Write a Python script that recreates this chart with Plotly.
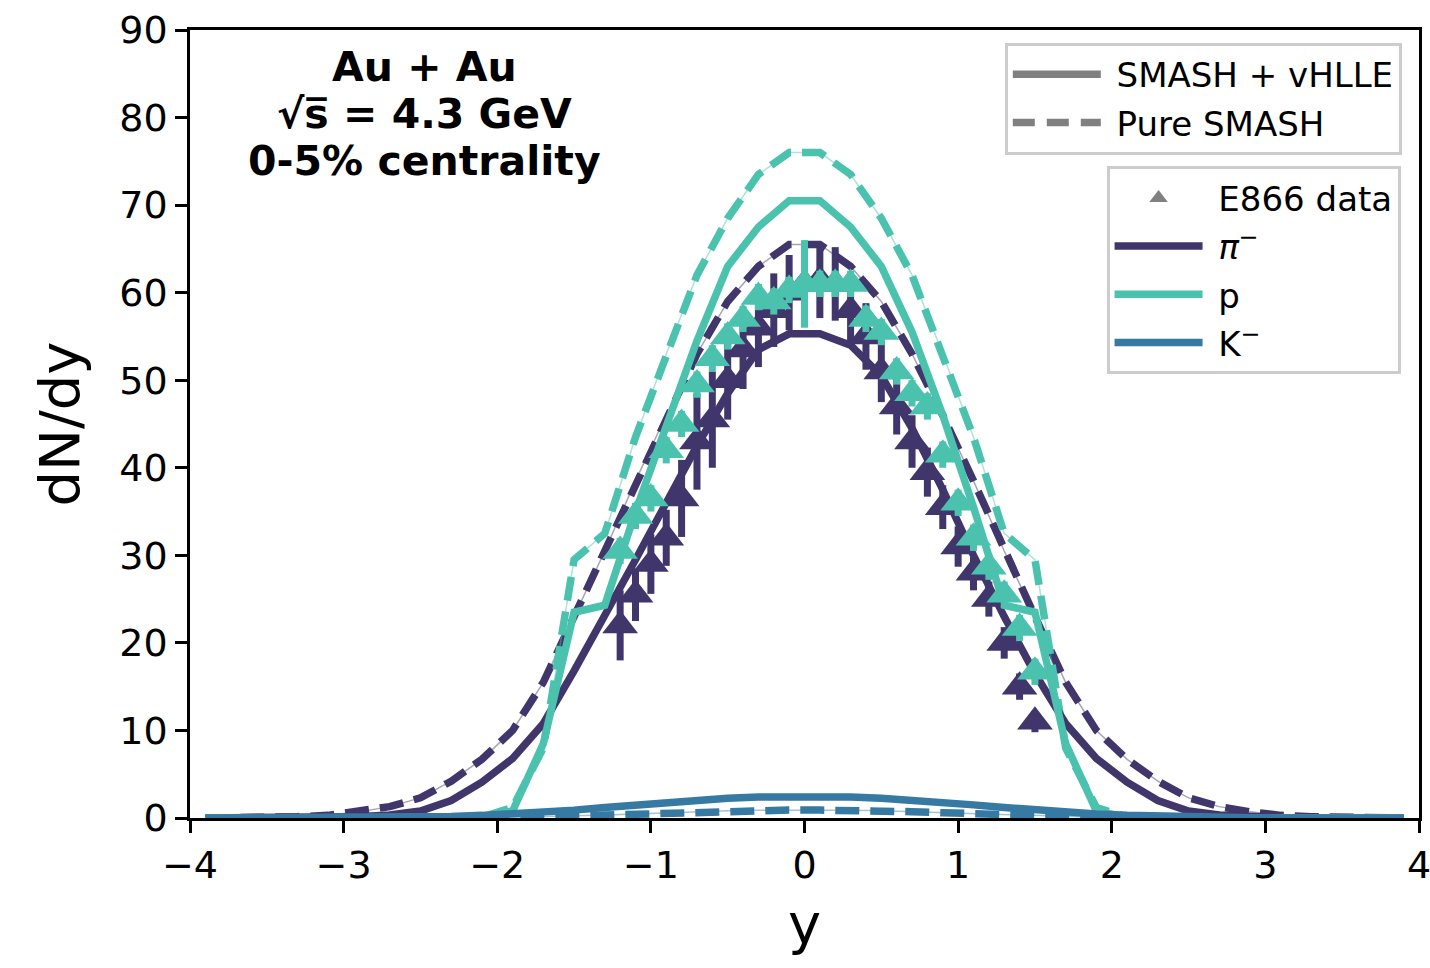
import plotly.graph_objects as go

# ---------------- data ----------------
rapidity = [-3.9, -3.7, -3.5, -3.3, -3.1, -2.9, -2.7, -2.5, -2.3, -2.1,
            -1.9, -1.7, -1.5, -1.3, -1.1, -0.9, -0.7, -0.5, -0.3, -0.1,
            0.1, 0.3, 0.5, 0.7, 0.9, 1.1, 1.3, 1.5, 1.7, 1.9,
            2.1, 2.3, 2.5, 2.7, 2.9, 3.1, 3.3, 3.5, 3.7, 3.9]

# SMASH + vHLLE (solid)
pi_hydro = [0, 0, 0, 0, 0.05, 0.15, 0.35, 0.8, 2.0, 4.1,
            6.8, 10.8, 16.8, 23.0, 29.5, 36.0, 42.5, 48.5, 53.5, 55.3,
            55.3, 54.0, 50.5, 44.5, 37.5, 30.0, 23.0, 16.5, 10.8, 6.8,
            4.1, 2.0, 0.8, 0.35, 0.15, 0.05, 0, 0, 0, 0]
p_hydro = [0, 0, 0, 0, 0, 0, 0, 0, 0, 0.05,
           0.8, 8.5, 23.5, 24.3, 35.0, 44.5, 54.5, 63.0, 67.5, 70.5,
           70.5, 67.5, 63.0, 55.5, 46.0, 35.5, 24.3, 23.5, 8.5, 0.8,
           0.05, 0, 0, 0, 0, 0, 0, 0, 0, 0]
k_hydro = [0, 0, 0, 0, 0.01, 0.03, 0.05, 0.1, 0.18, 0.3,
           0.45, 0.65, 0.9, 1.2, 1.5, 1.8, 2.05, 2.25, 2.4, 2.45,
           2.45, 2.4, 2.25, 2.05, 1.8, 1.5, 1.2, 0.9, 0.65, 0.45,
           0.3, 0.18, 0.1, 0.05, 0.03, 0.01, 0, 0, 0, 0]

# Pure SMASH (dashed)
pi_smash = [0, 0.02, 0.05, 0.15, 0.3, 0.7, 1.3, 2.3, 4.2, 6.7,
            10.0, 15.5, 23.0, 30.5, 38.5, 46.0, 53.0, 59.0, 63.0, 65.5,
            65.5, 63.0, 59.0, 53.0, 46.0, 38.5, 30.5, 23.0, 15.5, 10.0,
            6.7, 4.2, 2.3, 1.3, 0.7, 0.3, 0.15, 0.05, 0.02, 0]
p_smash = [0, 0, 0, 0, 0, 0, 0, 0, 0, 0.1,
           1.2, 8.0, 29.5, 32.5, 43.5, 53.0, 62.0, 68.5, 73.5, 76.0,
           76.0, 73.5, 68.5, 62.0, 53.0, 43.5, 32.5, 29.5, 8.0, 1.2,
           0.1, 0, 0, 0, 0, 0, 0, 0, 0, 0]
k_smash = [0, 0, 0, 0, 0, 0, 0, 0.01, 0.03, 0.05,
           0.09, 0.15, 0.24, 0.35, 0.47, 0.6, 0.72, 0.82, 0.88, 0.9,
           0.9, 0.88, 0.82, 0.72, 0.6, 0.47, 0.35, 0.24, 0.15, 0.09,
           0.05, 0.03, 0.01, 0, 0, 0, 0, 0, 0, 0]

# E866 data
e866_y = [-1.2, -1.1, -1.0, -0.9, -0.8, -0.7, -0.6, -0.5, -0.4, -0.3,
          -0.2, -0.1, 0.0, 0.1, 0.2, 0.3, 0.4, 0.5, 0.6, 0.7,
          0.8, 0.9, 1.0, 1.1, 1.2, 1.3, 1.4, 1.5]
e866_pi = [22.0, 25.5, 29.0, 32.0, 36.5, 43.0, 45.5, 50.0, 53.5, 56.0,
           58.0, 60.0, 61.0, 61.4, 61.0, 58.0, 55.0, 51.0, 47.0, 43.0,
           39.5, 35.5, 31.0, 28.0, 25.0, 20.0, 15.0, 11.0]
e866_pi_err = [4.0, 3.0, 3.4, 3.2, 4.4, 5.5, 5.5, 4.5, 4.5, 4.5,
               4.2, 4.3, 4.3, 4.3, 4.2, 4.0, 3.8, 3.5, 3.2, 3.0,
               2.8, 2.5, 2.3, 2.0, 2.0, 1.8, 1.5, 1.2]
e866_p = [30.5, 34.5, 36.5, 42.0, 45.0, 49.5, 52.5, 55.0, 57.0, 59.5,
          59.0, 60.3, 61.0, 61.0, 61.0, 61.0, 57.0, 55.5, 51.0, 48.5,
          47.0, 41.5, 36.0, 32.0, 28.7, 25.5, 21.7, 16.7]
e866_p_err = [1.5, 1.5, 1.5, 1.5, 1.5, 1.5, 1.5, 1.5, 1.5, 1.5,
              1.5, 1.5, 5.0, 1.5, 1.5, 1.5, 1.5, 1.5, 1.5, 1.5,
              1.5, 1.5, 1.5, 1.5, 1.5, 1.5, 1.5, 1.5]

x_ticks = [-4, -3, -2, -1, 0, 1, 2, 3, 4]
y_ticks = [0, 10, 20, 30, 40, 50, 60, 70, 80, 90]

# ---------------- style ----------------
C_PI = "#40366b"
C_P = "#4bc2ad"
C_K = "#367aa3"
GREY = "#808080"
FONT = "DejaVu Sans"
DASH = "24px,11px"
LW = 7.5
NB = "\u00a0"

fig = go.Figure()

# dashed (pure SMASH) with thin faint line underneath
for vals, col in [(pi_smash, C_PI), (p_smash, C_P), (k_smash, C_K)]:
    fig.add_trace(go.Scatter(x=rapidity, y=vals, mode="lines",
                             line=dict(color=col, width=1.5), opacity=0.45,
                             showlegend=False, hoverinfo="skip"))
    fig.add_trace(go.Scatter(x=rapidity, y=vals, mode="lines",
                             line=dict(color=col, width=LW, dash=DASH),
                             showlegend=False))
# solid (SMASH + vHLLE)
for vals, col in [(pi_hydro, C_PI), (p_hydro, C_P), (k_hydro, C_K)]:
    fig.add_trace(go.Scatter(x=rapidity, y=vals, mode="lines",
                             line=dict(color=col, width=LW),
                             showlegend=False))

# data points
fig.add_trace(go.Scatter(x=e866_y, y=e866_pi, mode="markers",
                         marker=dict(symbol="triangle-up", size=31, color=C_PI),
                         error_y=dict(type="data", array=e866_pi_err, color=C_PI,
                                      thickness=7, width=0),
                         showlegend=False))
fig.add_trace(go.Scatter(x=e866_y, y=e866_p, mode="markers",
                         marker=dict(symbol="triangle-up", size=31, color=C_P),
                         error_y=dict(type="data", array=e866_p_err, color=C_P,
                                      thickness=7, width=0),
                         showlegend=False))

# legend entries
fig.add_trace(go.Scatter(x=[None], y=[None], mode="lines", name=NB + "SMASH + vHLLE",
                         line=dict(color=GREY, width=LW), legend="legend",
                         legendgroup="a"))
fig.add_trace(go.Scatter(x=[None], y=[None], mode="lines", name=NB + "Pure SMASH",
                         line=dict(color=GREY, width=LW, dash="22px,12px"),
                         legend="legend", legendgroup="b"))
fig.add_trace(go.Scatter(x=[None], y=[None], mode="markers", name=NB + "E866 data",
                         marker=dict(symbol="triangle-up", size=24, color=GREY),
                         legend="legend2", legendgroup="c"))
fig.add_trace(go.Scatter(x=[None], y=[None], mode="lines", name=NB + "<i>π</i><sup>−</sup>",
                         line=dict(color=C_PI, width=LW), legend="legend2",
                         legendgroup="d"))
fig.add_trace(go.Scatter(x=[None], y=[None], mode="lines", name=NB + "p",
                         line=dict(color=C_P, width=LW), legend="legend2",
                         legendgroup="e"))
fig.add_trace(go.Scatter(x=[None], y=[None], mode="lines", name=NB + "K<sup>−</sup>",
                         line=dict(color=C_K, width=LW), legend="legend2",
                         legendgroup="f"))

axis_common = dict(showline=True, linecolor="black", linewidth=2.5, mirror=True,
                   ticks="outside", ticklen=12, tickwidth=2.5, tickcolor="black",
                   showgrid=False, zeroline=False, automargin=False,
                   ticklabeloverflow="allow",
                   tickfont=dict(family=FONT, size=38, color="black"))

fig.update_layout(
    width=1430, height=968,
    margin=dict(l=190, r=11, t=30, b=150, autoexpand=False),
    plot_bgcolor="white", paper_bgcolor="white",
    font=dict(family=FONT, color="black"),
    xaxis=dict(range=[-4, 4], tickvals=x_ticks,
               title=dict(text="y", font=dict(family=FONT, size=56), standoff=18),
               **axis_common),
    yaxis=dict(range=[0, 90], tickvals=y_ticks,
               title=dict(text="dN/dy", font=dict(family=FONT, size=56), standoff=22),
               **axis_common),
    legend=dict(x=0.986, y=0.984, xanchor="right", yanchor="top",
                bgcolor="white", bordercolor="#cccccc", borderwidth=3,
                font=dict(family=FONT, size=34), tracegroupgap=1, itemwidth=88),
    legend2=dict(x=0.985, y=0.827, xanchor="right", yanchor="top",
                 bgcolor="white", bordercolor="#cccccc", borderwidth=3,
                 font=dict(family=FONT, size=34), tracegroupgap=1, itemwidth=88),
    showlegend=True,
)

ann_lines = ["<b>Au + Au</b>",
             "<b>√s\u0305 = 4.3 GeV</b>",
             "<b>0-5% centrality</b>"]
ann_y = [0.953, 0.893, 0.834]
for txt, yy in zip(ann_lines, ann_y):
    fig.add_annotation(x=0.191, y=yy, xref="paper", yref="paper",
                       text=txt, showarrow=False, xanchor="center", yanchor="middle",
                       font=dict(family=FONT, size=41, color="black"))

fig.write_html("out.html")
